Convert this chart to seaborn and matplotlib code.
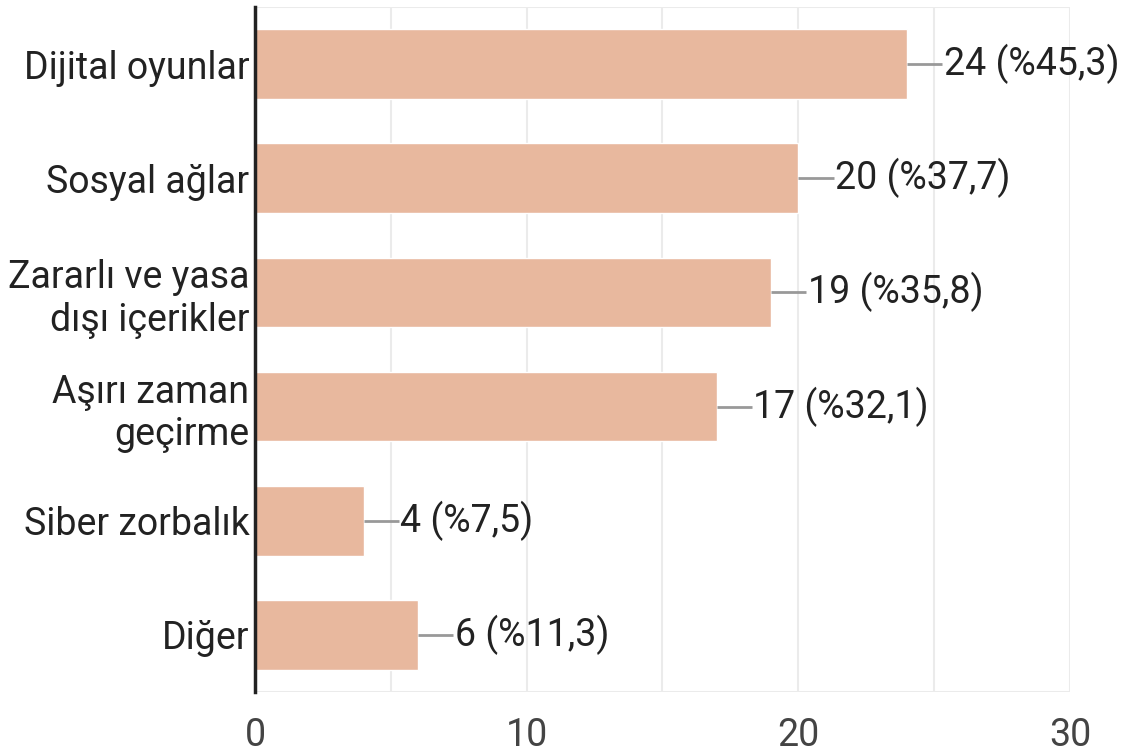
import matplotlib.pyplot as plt
import pandas as pd
import seaborn as sns

# Data
categories = ['Dijital oyunlar', 'Sosyal ağlar', 'Zararlı ve yasa\ndışı içerikler',
              'Aşırı zaman\ngeçirme', 'Siber zorbalık', 'Diğer']
counts = [24, 20, 19, 17, 4, 6]
percents = ['45,3', '37,7', '35,8', '32,1', '7,5', '11,3']
xticks = [0, 10, 20, 30]

df = pd.DataFrame({'category': categories, 'count': counts})

sns.set_style('white')
plt.rcParams['font.family'] = ['Roboto', 'DejaVu Sans']

fig = plt.figure(figsize=(11.31, 7.52), dpi=100)
ax = fig.add_axes([0.2255, 0.0798, 0.7205, 0.911])

sns.barplot(data=df, x='count', y='category', orient='h', color='#E8B89E',
            saturation=1, width=0.61, ax=ax)

ax.set_xlim(0, 30)
ax.set_ylim(5.5, -0.5)
for v in range(5, 31, 5):
    ax.axvline(v, color='#EBEBEB', lw=1.5, zorder=0)
ax.axhline(-0.5, color='#EBEBEB', lw=1.5, zorder=0)
ax.axhline(5.5, color='#EBEBEB', lw=1.5, zorder=0)

for s in ['top', 'right', 'bottom']:
    ax.spines[s].set_visible(False)
ax.spines['left'].set_color('#222222')
ax.spines['left'].set_linewidth(2.5)

# leader lines + value labels
for i, (c, p) in enumerate(zip(counts, percents)):
    ax.plot([c, c + 1.3], [i, i], color='#999999', lw=2, solid_capstyle='butt')
    ax.text(c + 1.35, i, f'{c} (%{p})', va='center', ha='left',
            fontsize=27, color='#222222')

ax.set_xticks(xticks)
ax.set_xticklabels([str(t) for t in xticks], fontsize=27, color='#444444')
ax.tick_params(axis='x', length=0, pad=18)
ax.tick_params(axis='y', length=0, pad=4)
for lbl in ax.get_yticklabels():
    lbl.set_fontsize(27)
    lbl.set_color('#222222')
    lbl.set_multialignment('right')
ax.set_xlabel('')
ax.set_ylabel('')

fig.savefig('out.png', dpi=100)
